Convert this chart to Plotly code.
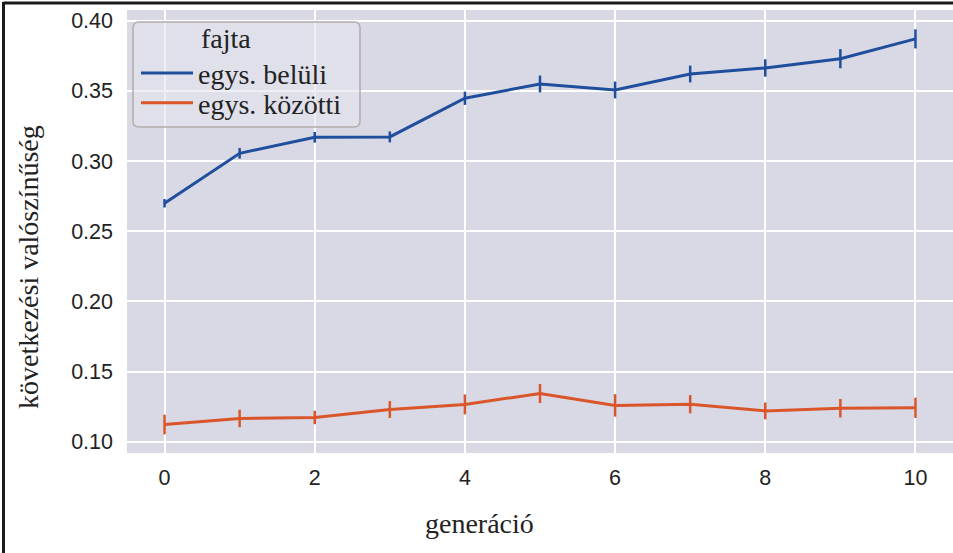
import plotly.graph_objects as go

generation = [0, 1, 2, 3, 4, 5, 6, 7, 8, 9, 10]
within_mean = [0.2699, 0.3055, 0.3169, 0.3172, 0.3447, 0.3549, 0.3506, 0.3620, 0.3663, 0.3729, 0.3870]
within_err = [0.0030, 0.0038, 0.0038, 0.0039, 0.0047, 0.0060, 0.0060, 0.0060, 0.0062, 0.0068, 0.0068]
between_mean = [0.1123, 0.1166, 0.1173, 0.1230, 0.1266, 0.1344, 0.1259, 0.1268, 0.1220, 0.1239, 0.1242]
between_err = [0.0070, 0.0062, 0.0048, 0.0060, 0.0071, 0.0068, 0.0080, 0.0065, 0.0060, 0.0066, 0.0072]
series_names = ["egys. belüli", "egys. közötti"]
legend_title = "fajta"
x_title = "generáció"
y_title = "következési valószínűség"
x_ticks = [0, 2, 4, 6, 8, 10]
y_ticks = [0.10, 0.15, 0.20, 0.25, 0.30, 0.35, 0.40]

BLUE = "#1F4E9C"
ORANGE = "#DA5529"
BG = "#D8D9E5"
SERIF = "Liberation Serif, Times New Roman, serif"
SANS = "Liberation Sans, Arial, sans-serif"

W, H = 953, 553
ML, MR, MT, MB = 127, 0, 10, 100
PW, PH = W - ML - MR, H - MT - MB


def px_x(p):
    return (p - ML) / PW


def px_y(p):
    return (H - MB - p) / PH


fig = go.Figure()
for name, mean, err, col, leg in [
    (series_names[0], within_mean, within_err, BLUE, "legend"),
    (series_names[1], between_mean, between_err, ORANGE, "legend2"),
]:
    fig.add_trace(go.Scatter(
        x=generation, y=mean, name=name, mode="lines", legend=leg,
        line=dict(color=col, width=3),
        error_y=dict(type="data", array=err, visible=True, color=col,
                     thickness=2.5, width=0),
    ))

# rounded legend box
x0, x1 = px_x(133), px_x(360)
y0, y1 = px_y(127), px_y(22)
rx, ry = 6 / PW, 6 / PH
path = (f"M{x0+rx},{y1} L{x1-rx},{y1} Q{x1},{y1} {x1},{y1-ry} "
        f"L{x1},{y0+ry} Q{x1},{y0} {x1-rx},{y0} L{x0+rx},{y0} "
        f"Q{x0},{y0} {x0},{y0+ry} L{x0},{y1-ry} Q{x0},{y1} {x0+rx},{y1} Z")
shapes = [
    dict(type="path", xref="paper", yref="paper", path=path,
         fillcolor="rgba(228,228,236,0.6)", line=dict(color="#B3ACAC", width=1.5),
         layer="above"),
    # outer frame (top and left edges)
    dict(type="line", xref="paper", yref="paper", x0=px_x(3.5), x1=px_x(W + 5),
         y0=px_y(3), y1=px_y(3), line=dict(color="#1a1a1a", width=3), layer="above"),
    dict(type="line", xref="paper", yref="paper", x0=px_x(3.5), x1=px_x(3.5),
         y0=px_y(2), y1=px_y(H + 5), line=dict(color="#1a1a1a", width=3), layer="above"),
]

annotations = [
    dict(text=x_title, xref="paper", yref="paper", x=px_x(479), y=px_y(523),
         xanchor="center", yanchor="middle", showarrow=False,
         font=dict(family=SERIF, size=28, color="#222222")),
    dict(text=y_title, xref="paper", yref="paper", x=px_x(28), y=px_y(267),
         xanchor="center", yanchor="middle", textangle=-90, showarrow=False,
         font=dict(family=SERIF, size=28, color="#222222")),
]

legend_font = dict(family=SERIF, size=28, color="#222222")
fig.update_layout(
    width=W, height=H,
    margin=dict(l=ML, r=MR, t=MT, b=MB, pad=0, autoexpand=False),
    paper_bgcolor="white", plot_bgcolor=BG,
    shapes=shapes, annotations=annotations,
    showlegend=True,
    legend=dict(
        x=px_x(136), y=px_y(12), xanchor="left", yanchor="top",
        bgcolor="rgba(0,0,0,0)", borderwidth=0, font=legend_font,
        title=dict(text="\u00a0" * 9 + legend_title, side="top", font=legend_font),
        itemwidth=52, tracegroupgap=0,
    ),
    legend2=dict(
        x=px_x(136), y=px_y(78), xanchor="left", yanchor="top",
        bgcolor="rgba(0,0,0,0)", borderwidth=0, font=legend_font,
        itemwidth=52, tracegroupgap=0,
    ),
    xaxis=dict(
        range=[-0.5, 10.5], tickvals=x_ticks, ticktext=[str(v) for v in x_ticks],
        showgrid=True, gridcolor="white", gridwidth=2, zeroline=False,
        showline=False, ticks="", ticklabelstandoff=9, automargin=False,
        tickfont=dict(family=SANS, size=21.5, color="#222222"),
    ),
    yaxis=dict(
        range=[0.092, 0.4076], tickvals=y_ticks,
        ticktext=[f"{v:.2f}" for v in y_ticks],
        showgrid=True, gridcolor="white", gridwidth=2, zeroline=False,
        showline=False, ticks="", ticklabelstandoff=13, automargin=False,
        tickfont=dict(family=SANS, size=21.5, color="#222222"),
    ),
)

fig.write_html(
    "out.html",
    config={"displayModeBar": False},
    post_script="document.body.style.margin='0';document.body.style.overflow='hidden';",
)
